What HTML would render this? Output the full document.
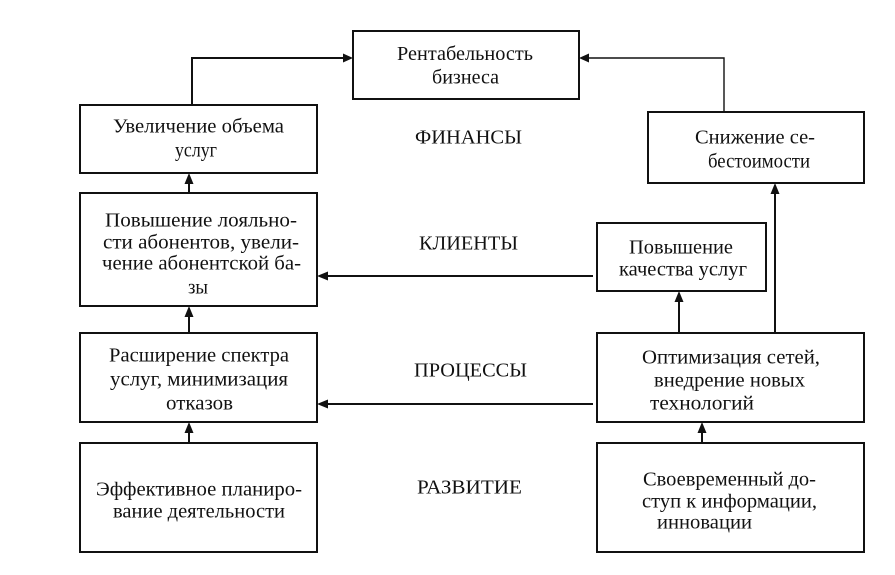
<!DOCTYPE html>
<html>
<head>
<meta charset="utf-8">
<style>
  html, body { margin:0; padding:0; background:#fff; }
  svg { display:block; }
  text { font-family: "Liberation Serif", "DejaVu Serif", serif; font-size:20px; fill:#111; }
</style>
</head>
<body>
<svg width="895" height="575" viewBox="0 0 895 575" xmlns="http://www.w3.org/2000/svg">
  <g fill="none" stroke="#111" stroke-width="2">
    <!-- boxes -->
    <rect x="353" y="31" width="226" height="68"/>
    <rect x="80" y="105" width="237" height="68"/>
    <rect x="648" y="112" width="216" height="71"/>
    <rect x="80" y="193" width="237" height="113"/>
    <rect x="597" y="223" width="169" height="68"/>
    <rect x="80" y="333" width="237" height="89"/>
    <rect x="597" y="333" width="267" height="89"/>
    <rect x="80" y="443" width="237" height="109"/>
    <rect x="597" y="443" width="267" height="109"/>
    <!-- connectors -->
    <polyline points="192,105 192,58 345,58"/>
    <polyline points="724,112 724,58 587,58" stroke-width="1.4"/>
    <line x1="189" y1="193" x2="189" y2="182"/>
    <line x1="189" y1="333" x2="189" y2="315"/>
    <line x1="189" y1="443" x2="189" y2="431"/>
    <line x1="593" y1="276" x2="326" y2="276"/>
    <line x1="593" y1="404" x2="326" y2="404"/>
    <line x1="679" y1="333" x2="679" y2="300"/>
    <line x1="775" y1="333" x2="775" y2="192"/>
    <line x1="702" y1="443" x2="702" y2="431"/>
  </g>
  <g fill="#111" stroke="none">
    <!-- arrowheads -->
    <polygon points="353,58 343,53.5 343,62.5"/>
    <polygon points="579,58 589,53.5 589,62.5"/>
    <polygon points="189,173 184.5,184 193.5,184"/>
    <polygon points="189,306 184.5,317 193.5,317"/>
    <polygon points="189,422 184.5,433 193.5,433"/>
    <polygon points="317,276 328,271.5 328,280.5"/>
    <polygon points="317,404 328,399.5 328,408.5"/>
    <polygon points="679,291 674.5,302 683.5,302"/>
    <polygon points="775,183 770.5,194 779.5,194"/>
    <polygon points="702,422 697.5,433 706.5,433"/>
  </g>
  <!-- texts -->
  <text x="397" y="60" textLength="136" lengthAdjust="spacingAndGlyphs">Рентабельность</text>
  <text x="432" y="83.5" textLength="67" lengthAdjust="spacingAndGlyphs">бизнеса</text>

  <text x="113" y="132.5" textLength="171" lengthAdjust="spacingAndGlyphs">Увеличение объема</text>
  <text x="175" y="156.5" textLength="42" lengthAdjust="spacingAndGlyphs">услуг</text>

  <text x="415" y="143.5" textLength="107" lengthAdjust="spacingAndGlyphs">ФИНАНСЫ</text>

  <text x="695" y="143.5" textLength="120" lengthAdjust="spacingAndGlyphs">Снижение се-</text>
  <text x="708" y="167.5" textLength="102" lengthAdjust="spacingAndGlyphs">бестоимости</text>

  <text x="105" y="226.5" textLength="192" lengthAdjust="spacingAndGlyphs">Повышение лояльно-</text>
  <text x="103" y="248.5" textLength="196" lengthAdjust="spacingAndGlyphs">сти абонентов, увели-</text>
  <text x="102" y="269.5" textLength="199" lengthAdjust="spacingAndGlyphs">чение абонентской ба-</text>
  <text x="188" y="293.5" textLength="20" lengthAdjust="spacingAndGlyphs">зы</text>

  <text x="419" y="249.5" textLength="99" lengthAdjust="spacingAndGlyphs">КЛИЕНТЫ</text>

  <text x="629" y="253.5" textLength="104" lengthAdjust="spacingAndGlyphs">Повышение</text>
  <text x="619" y="275.5" textLength="128" lengthAdjust="spacingAndGlyphs">качества услуг</text>

  <text x="109" y="361.5" textLength="180" lengthAdjust="spacingAndGlyphs">Расширение спектра</text>
  <text x="110" y="385.5" textLength="178" lengthAdjust="spacingAndGlyphs">услуг, минимизация</text>
  <text x="166" y="409.5" textLength="67" lengthAdjust="spacingAndGlyphs">отказов</text>

  <text x="414" y="376.5" textLength="113" lengthAdjust="spacingAndGlyphs">ПРОЦЕССЫ</text>

  <text x="642" y="363.5" textLength="178" lengthAdjust="spacingAndGlyphs">Оптимизация сетей,</text>
  <text x="654" y="386.5" textLength="151" lengthAdjust="spacingAndGlyphs">внедрение новых</text>
  <text x="650" y="409.5" textLength="104" lengthAdjust="spacingAndGlyphs">технологий</text>

  <text x="96" y="495.5" textLength="206" lengthAdjust="spacingAndGlyphs">Эффективное планиро-</text>
  <text x="113" y="517.5" textLength="172" lengthAdjust="spacingAndGlyphs">вание деятельности</text>

  <text x="417" y="493.5" textLength="105" lengthAdjust="spacingAndGlyphs">РАЗВИТИЕ</text>

  <text x="643" y="485.5" textLength="173" lengthAdjust="spacingAndGlyphs">Своевременный до-</text>
  <text x="642" y="507.5" textLength="175" lengthAdjust="spacingAndGlyphs">ступ к информации,</text>
  <text x="657" y="528.5" textLength="95" lengthAdjust="spacingAndGlyphs">инновации</text>
</svg>
</body>
</html>
